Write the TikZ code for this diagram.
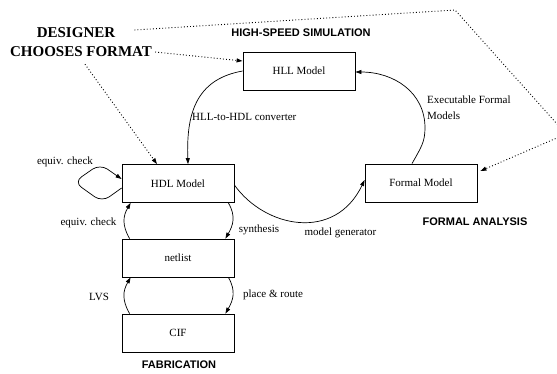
\documentclass[tikz,border=0pt]{standalone}
\usepackage{fontspec}
\setmainfont{Liberation Serif}
\newfontfamily\hfont{Liberation Sans}
\usetikzlibrary{arrows.meta}
\begin{document}
\begin{tikzpicture}[x=1pt,y=-1pt,
 box/.style={draw,line width=0.8pt,minimum width=112pt,minimum height=38pt,inner sep=0pt,font=\fontsize{11}{13}\selectfont},
 lbl/.style={inner sep=0pt,font=\fontsize{11}{13}\selectfont},
 head/.style={inner sep=0pt,font=\hfont\bfseries\fontsize{11}{13}\selectfont},
 big/.style={inner sep=0pt,font=\bfseries\fontsize{15}{19}\selectfont},
 conn/.style={line width=0.7pt,-{Stealth[length=6pt,width=4pt,inset=0pt]}},
 dots/.style={line width=0.9pt,dash pattern=on 0.9pt off 2.2pt,-{Stealth[length=6pt,width=4pt,inset=0pt]}},
]
\useasboundingbox (0,0) rectangle (557,373);
\clip (0,0) rectangle (557,373);

% boxes
\node[box] (hll) at (299,71) {HLL Model};
\node[box] (hdl) at (178,183.5) {HDL Model};
\node[box] (net) at (178,258) {netlist};
\node[box] (cif) at (178,333) {CIF};
\node[box] (formal) at (421,183) {Formal Model};

% headings
\node[big] (des1) at (76,33) {DESIGNER};
\node[big] (des2) at (81,52) {CHOOSES FORMAT};
\node[head] (hss) at (301,33) {HIGH-SPEED SIMULATION};
\node[head] (fa) at (475,222) {FORMAL ANALYSIS};
\node[head] (fab) at (179,365) {FABRICATION};

% labels
\node[lbl,anchor=west] (l1) at (192,117) {HLL-to-HDL converter};
\node[lbl,anchor=west,align=left,font=\fontsize{11}{16}\selectfont] (l2) at (427,108) {Executable Formal\\Models};
\node[lbl] (l3) at (65,162) {equiv. check};
\node[lbl] (l4) at (88.5,223) {equiv. check};
\node[lbl] (l5) at (259,230) {synthesis};
\node[lbl] (l6) at (340.5,233) {model generator};
\node[lbl] (l7) at (99,297) {LVS};
\node[lbl] (l8) at (273,295) {place \& route};

% solid connectors
\draw[conn] (hll.west) to[out=190,in=92,looseness=1.15] ([xshift=10pt]hdl.north);
\draw[conn] ([xshift=-9pt]formal.north) .. controls +(9,-16) and +(0,14) .. (425,128)
  .. controls +(0,-36) and +(38,0) .. ([yshift=-1pt]hll.east);
\draw[conn] ([yshift=-1.5pt]hdl.east) .. controls (265,228) and (335,242) .. ([yshift=3pt]formal.west);
\draw[conn] ([xshift=-6pt]hdl.south east) to[out=-60,in=60,looseness=1.1] ([xshift=-9pt]net.north east);
\draw[conn] ([xshift=8pt]net.north west) to[out=120,in=-120,looseness=1.1] ([xshift=9pt]hdl.south west);
\draw[conn] ([xshift=-6pt]net.south east) to[out=-60,in=60,looseness=1.1] ([xshift=-9pt]cif.north east);
\draw[conn] ([xshift=8pt]cif.north west) to[out=120,in=-120,looseness=1.1] ([xshift=9pt]net.south west);
% self loop
\draw[conn,rounded corners=9pt] ([yshift=-4.5pt]hdl.west) -- (102,202) -- (74,182) -- (100,164) -- ([yshift=4.5pt]hdl.west);

% dotted connectors
\draw[dots] ([xshift=3pt]des2.east) -- ([yshift=10pt]hll.west);
\draw[dots] ([xshift=4pt,yshift=-7pt]des2.south) -- ([xshift=-21pt]hdl.north);
\draw[dots] ([xshift=19pt,yshift=3pt]des1.east) -- (455,10) -- (566,134) -- ([xshift=3pt,yshift=12pt]formal.east);
\end{tikzpicture}
\end{document}
